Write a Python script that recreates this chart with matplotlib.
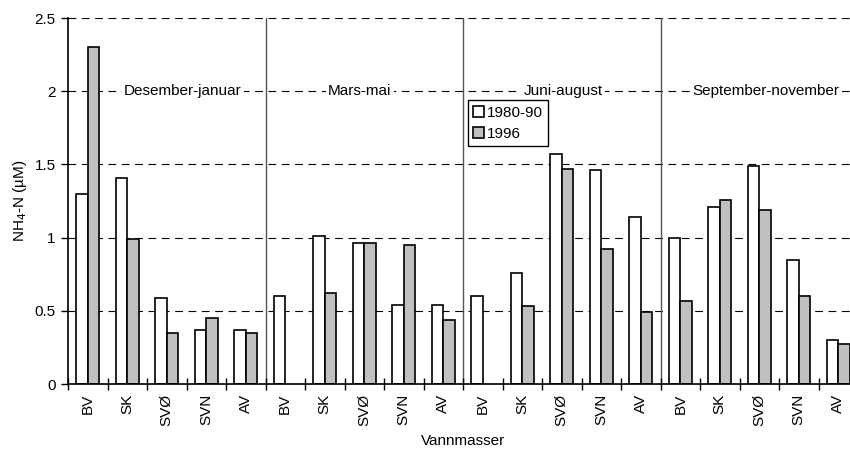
import numpy as np
import matplotlib.pyplot as plt

plt.rcParams['font.family'] = ['Liberation Sans', 'DejaVu Sans']

# water masses repeated in each season
masses = ["BV", "SK", "SVØ", "SVN", "AV"]
seasons = ["Desember-januar", "Mars-mai", "Juni-august", "September-november"]

# NH4-N (µM), 5 water masses per season
v_1980_90 = [1.30, 1.41, 0.59, 0.37, 0.37,
             0.60, 1.01, 0.96, 0.54, 0.54,
             0.60, 0.76, 1.57, 1.46, 1.14,
             1.00, 1.21, 1.49, 0.85, 0.30]
v_1996 = [2.30, 0.99, 0.35, 0.45, 0.35,
          np.nan, 0.62, 0.96, 0.95, 0.44,
          np.nan, 0.53, 1.47, 0.92, 0.49,
          0.57, 1.26, 1.19, 0.60, 0.27]

labels = masses * len(seasons)
x = np.arange(len(labels))
w = 0.29
fs = 11

fig = plt.figure(figsize=(8.5, 4.54), dpi=100)
ax = fig.add_axes([68 / 850, 70 / 454, 790 / 850, 366 / 454])

for yv in [0.5, 1.0, 1.5, 2.0, 2.5]:
    ax.axhline(yv, color="black", lw=0.8, dashes=(7, 5), zorder=0)

ax.bar(x - w / 2, v_1980_90, w, color="white", edgecolor="black", lw=1.2, label="1980-90", zorder=2)
ax.bar(x + w / 2, v_1996, w, color="#c0c0c0", edgecolor="black", lw=1.2, label="1996", zorder=2)

for k in range(1, len(seasons)):
    ax.axvline(k * 5 - 0.5, color="#555555", lw=1.0, zorder=1)

# season titles sit on the 2.0 gridline
season_x = [2.41, 6.89, 12.03, 17.17]
for sx, s in zip(season_x, seasons):
    ax.text(sx, 2.0, s, ha="center", va="center", fontsize=fs,
            bbox=dict(facecolor="white", edgecolor="none", pad=1.5), zorder=3)

ax.set_xlim(-0.5, len(labels) - 0.5)
ax.set_ylim(0, 2.5)
ax.set_yticks([0, 0.5, 1, 1.5, 2, 2.5])
ax.set_yticklabels(["0", "0.5", "1", "1.5", "2", "2.5"], fontsize=fs)
ax.set_xticks(x)
ax.set_xticklabels(labels, rotation=90, fontsize=fs)
ax.tick_params(axis="x", length=0, pad=7)
ax.set_xticks(np.arange(len(labels) + 1) - 0.5, minor=True)
ax.tick_params(axis="x", which="minor", direction="inout", length=9, width=1)
ax.tick_params(axis="y", direction="out", length=5, width=1, pad=4)

for side in ["top", "right"]:
    ax.spines[side].set_visible(False)
ax.spines["left"].set_linewidth(1.2)
ax.spines["bottom"].set_linewidth(1.2)

ax.set_xlabel("Vannmasser", fontsize=fs, labelpad=6)
ax.set_ylabel("NH$_4$-N (µM)", fontsize=fs, labelpad=4)

ax.legend(loc="upper left", bbox_to_anchor=(0.506, 0.775), fontsize=fs,
          frameon=True, fancybox=False, edgecolor="black", framealpha=1,
          handlelength=0.7, handleheight=0.7, handletextpad=0.2,
          borderpad=0.35, labelspacing=0.45, borderaxespad=0)

fig.savefig("out.png", dpi=100)
